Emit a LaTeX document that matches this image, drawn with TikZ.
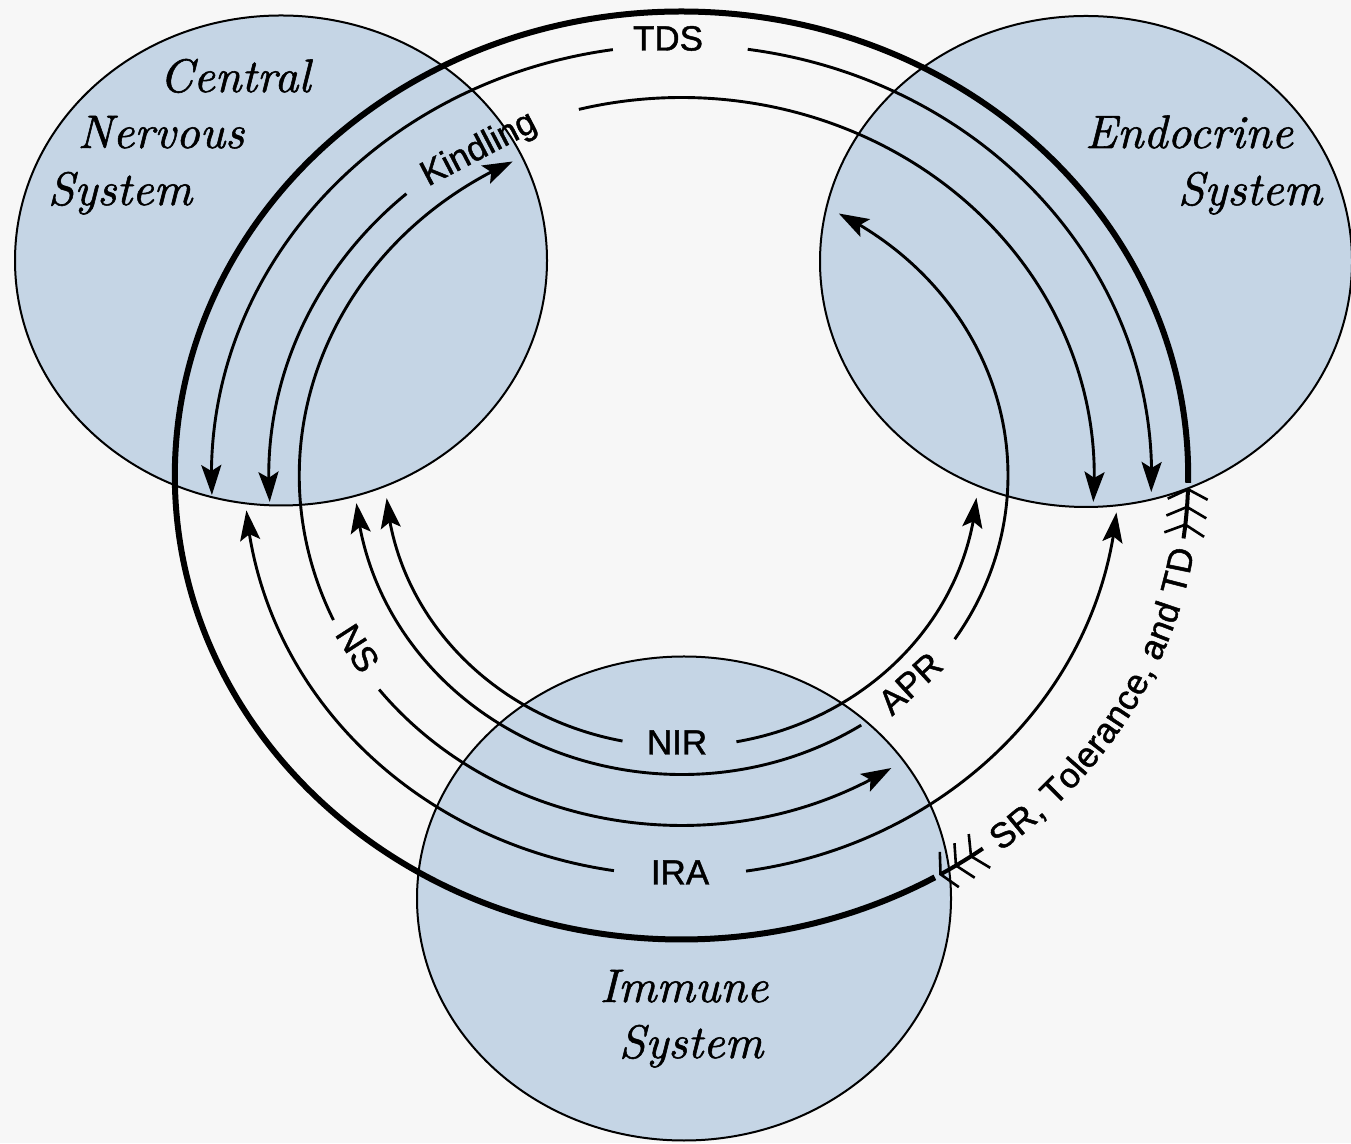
\documentclass[tikz,border=0pt]{standalone}
\usepackage{fontspec}
\newfontfamily\labfont{Liberation Sans}[FakeBold=1.3]
\newfontfamily\sysfam{lmroman10-italic}[Extension=.otf, FakeBold=1.2]
\usetikzlibrary{arrows.meta,bending,decorations.text,shapes.geometric}

\definecolor{bgcol}{RGB}{247,247,247}
\definecolor{sysfill}{RGB}{197,213,229}

\newcommand\lblfont{\labfont\fontsize{35}{42}\selectfont}
\newcommand\sysfont{\sysfam\fontsize{47}{56}\selectfont}

% elliptic ring arc around O: [style]{name}{radius}{start angle}{end angle}
\newcommand\ringarc[5][]{%
  \pgfmathsetmacro\ringrx{1.092*#3}%
  \coordinate (#2) at ([shift={(#4:\ringrx\space and #3)}]O);%
  \draw[#1] (#2) arc[start angle=#4, end angle=#5, x radius=\ringrx, y radius=#3];%
}

\tikzset{
  sysdisc/.style={ellipse, draw=black, line width=2pt, fill=sysfill,
    inner sep=0pt, outer sep=0pt},
  syslbl/.style={font=\sysfont, anchor=base, inner sep=0pt},
  lbl/.style={font=\lblfont, inner sep=0pt, text height=25pt, text depth=0pt},
  thickline/.style={line width=6pt},
  arr/.style={line width=2.9pt, -{Stealth[length=30pt,width=20pt,inset=6pt]}},
  tri/.style={line width=4pt,
    -{Straight Barb[length=10pt,width=40pt,line width=2.6pt,sep=5pt]
      Straight Barb[length=10pt,width=40pt,line width=2.6pt,sep=5pt]
      Straight Barb[length=10pt,width=40pt,line width=2.6pt,sep=5pt]}},
}

\begin{document}
\begin{tikzpicture}[x=1pt,y=1pt]
\useasboundingbox (0,0) rectangle (1351,1143);
\fill[bgcol] (0,0) rectangle (1351,1143);

% the three systems
\node[sysdisc, minimum width=532pt, minimum height=490pt] (cns) at (281,882.5) {};
\node[sysdisc, minimum width=532pt, minimum height=491pt] (endo) at (1086,881.5) {};
\node[sysdisc, minimum width=534pt, minimum height=484pt] (imm) at (684,244.5) {};

\node[syslbl] (cns1) at (235,1051) {Central};
\node[syslbl] (cns2) at (161,995) {Nervous};
\node[syslbl] (cns3) at (120,938) {System};
\node[syslbl] (endo1) at (1189,995) {Endocrine};
\node[syslbl] (endo2) at (1250,938) {System};
\node[syslbl] (imm1) at (684,141) {Immune};
\node[syslbl] (imm2) at (691,85) {System};

% common centre of the rings
\coordinate (O) at (681.5,667.5);

% outer loop
\ringarc[thickline]{thk}{464}{-0.9}{300}

% TDS
\ringarc[arr]{tdsA}{430.5}{98.4}{182.6}
\ringarc[arr]{tdsB}{430.5}{81.9}{-2.2}
% IRA
\ringarc[arr]{iraA}{400}{261.1}{185}
\ringarc[arr]{iraB}{400}{278.5}{354.7}
% Kindling
\ringarc[arr]{kinA}{378}{131.8}{184}
\ringarc[arr]{kinB}{378}{104.4}{-4}
% NS
\ringarc[arr]{nsA}{350}{204.4}{116.2}
\ringarc[arr]{nsB}{350}{217.7}{303.3}
% APR
\ringarc[arr]{aprA}{299}{303.4}{185.3}
\ringarc[arr]{aprB}{299}{326.8}{421.2}
% NIR
\ringarc[arr]{nirA}{271}{258.5}{184.8}
\ringarc[arr]{nirB}{271}{280.7}{355.3}

% SR, Tolerance, and TD
\ringarc[tri]{srA}{464}{-53.5}{-60}
\ringarc[tri]{srB}{464}{-7.8}{-0.9}
\coordinate (srT) at ([shift={(-52.5:506.7 and 464)}]O);
\path[decorate, decoration={text along path, text align=center, raise=-12.5pt,
  text format delimiters={|}{|},
  text={|\lblfont|SR, Tolerance, and TD}}]
  (srT) arc[start angle=-52.5, end angle=-8.5, x radius=506.7, y radius=464];

% ring labels
\node[lbl] (tds) at (668,1105) {TDS};
\node[lbl, rotate=27.5] (kin) at (477.6,996.2) {Kindling};
\node[lbl, rotate=-57.2] (ns) at (358,495) {NS};
\node[lbl, rotate=42.7] (apr) at (910,460) {APR};
\node[lbl] (nir) at (677,401) {NIR};
\node[lbl] (ira) at (680,271) {IRA};
\end{tikzpicture}
\end{document}
